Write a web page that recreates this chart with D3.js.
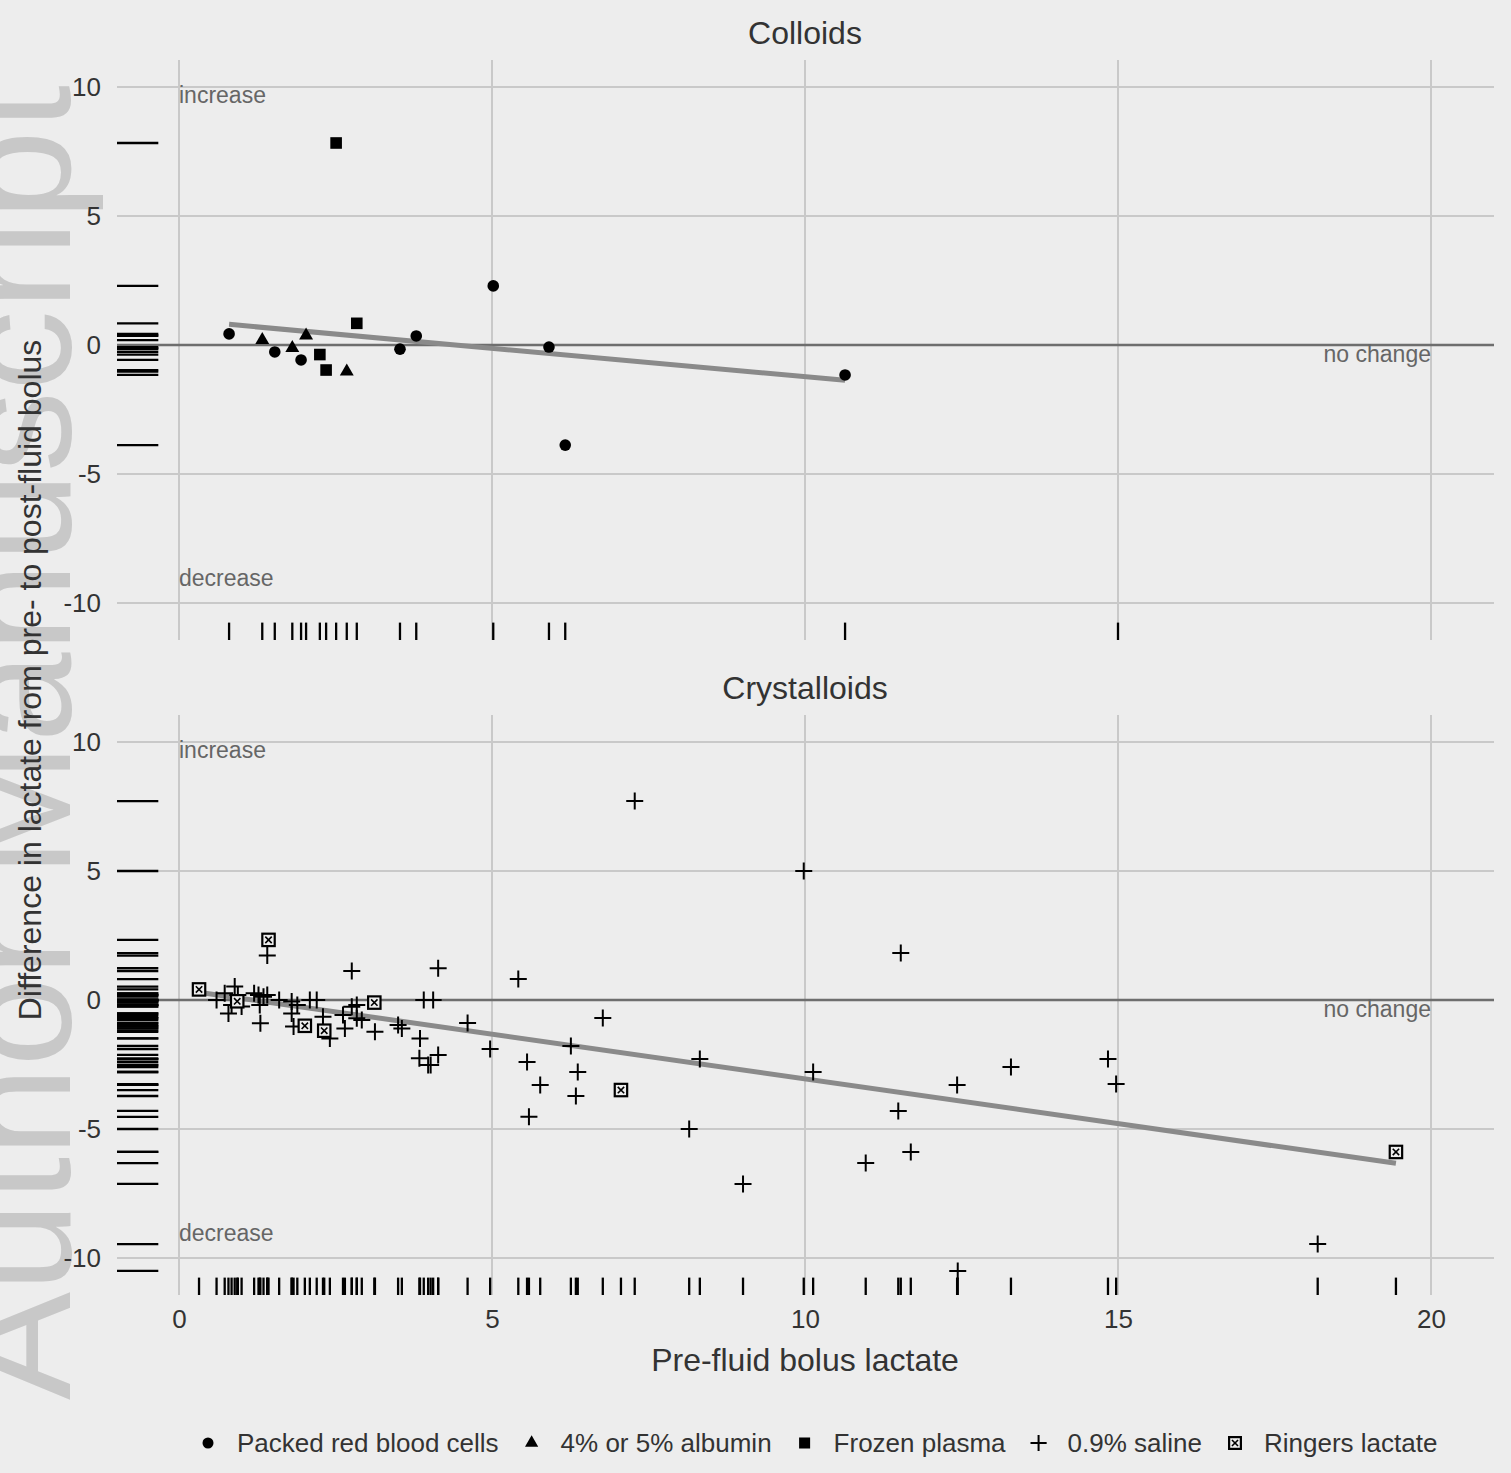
<!DOCTYPE html>
<html>
<head>
<meta charset="utf-8">
<script src="https://cdn.jsdelivr.net/npm/d3@7"></script>
<style>
  body { margin: 0; background: #ededed; }
  svg { display: block; font-family: "Liberation Sans", Arial, sans-serif; }
</style>
</head>
<body>
<svg id="chart"></svg>
<script>
// ---- data ----
// Colloids panel
const rbcX = [0.80, 1.53, 1.95, 3.53, 3.79, 5.02, 5.91, 6.17, 10.64, 15.0];
const rbcY = [0.43, -0.27, -0.58, -0.16, 0.35, 2.29, -0.08, -3.88, -1.16, 12.0];
const albuminX = [1.33, 1.81, 2.03, 2.68];
const albuminY = [0.19, -0.12, 0.37, -1.03];
const plasmaX = [2.25, 2.35, 2.51, 2.84];
const plasmaY = [-0.37, -0.97, 7.83, 0.84];

// Crystalloids panel
const salineX = [0.60, 0.73, 0.89, 0.94, 0.84, 0.79, 1.00, 1.20, 1.27, 1.35, 1.29, 1.30, 1.41, 1.41,
  1.60, 1.80, 1.80, 1.83, 1.89, 2.09, 2.20, 2.30, 2.41, 2.62, 2.65, 2.76, 2.84, 2.84, 2.92, 2.76,
  3.13, 3.50, 3.56, 3.85, 3.84, 3.98, 4.02, 4.14, 4.14, 3.91, 4.06, 4.61, 4.97,
  5.42, 5.56, 5.59, 5.77, 6.26, 6.37, 6.34, 6.77, 7.28, 8.15, 8.32, 9.01, 9.98, 10.13,
  10.97, 11.49, 11.53, 11.69, 12.43, 12.44, 13.29, 14.84, 14.97, 18.19];
const salineY = [0.00, 0.26, 0.52, 0.19, -0.19, -0.52, -0.25, 0.26, 0.19, 0.13, -0.19, -0.90, 0.19, 1.72,
  0.00, -0.06, -0.52, -1.03, -0.19, 0.00, 0.00, -0.65, -1.49, -0.58, -1.10, -0.26, -0.19, -0.71, -0.78, 1.12,
  -1.23, -0.97, -1.10, -1.49, -2.26, -2.52, -2.52, -2.13, 1.23, 0.00, 0.00, -0.89, -1.90,
  0.81, -2.40, -4.53, -3.29, -1.78, -2.79, -3.72, -0.70, 7.71, -5.00, -2.29, -7.13, 5.00, -2.79,
  -6.32, -4.30, 1.82, -5.89, -3.29, -10.50, -2.60, -2.29, -3.26, -9.46];
const ringersX = [0.32, 0.93, 1.43, 2.01, 2.32, 3.12, 7.06, 19.44];
const ringersY = [0.41, -0.05, 2.33, -1.00, -1.19, -0.10, -3.49, -5.89];

// linear fit endpoints as drawn
const colloidFitX = [0.80, 10.64];
const colloidFitY = [0.80, -1.37];
const crystFitX = [0.31, 19.44];
const crystFitY = [0.30, -6.33];

const xTicks = [0, 5, 10, 15, 20];
const yTicks = [-10, -5, 0, 5, 10];

const groupNames = ["Packed red blood cells", "4% or 5% albumin", "Frozen plasma", "0.9% saline", "Ringers lactate"];
const groupShapes = ["circle", "triangle", "square", "cross", "ringers"];

// ---- layout ----
const W = 1511, H = 1473;
const left = 117, right = 1494;

const zip = (xs, ys, g) => xs.map((x, i) => ({ x: x, y: ys[i], g: g }));

const panels = [
  {
    title: "Colloids", top: 60, bottom: 640, y0: 603, y1: 87, titleY: 44,
    points: [].concat(zip(rbcX, rbcY, "circle"), zip(albuminX, albuminY, "triangle"), zip(plasmaX, plasmaY, "square")),
    fitX: colloidFitX, fitY: colloidFitY
  },
  {
    title: "Crystalloids", top: 715, bottom: 1295, y0: 1258, y1: 742, titleY: 699,
    points: [].concat(zip(salineX, salineY, "cross"), zip(ringersX, ringersY, "ringers")),
    fitX: crystFitX, fitY: crystFitY
  }
];

const x = d3.scaleLinear().domain([0, 20]).range([179, 1431]);

const svg = d3.select("#chart").attr("width", W).attr("height", H);
svg.append("rect").attr("width", W).attr("height", H).attr("fill", "#ededed");

// watermark
svg.append("text")
  .attr("transform", "translate(70,1400) rotate(-90)")
  .attr("font-size", 160)
  .attr("textLength", 1315)
  .attr("lengthAdjust", "spacingAndGlyphs")
  .attr("fill", "#c8c8c8")
  .text("Author Manuscript");

function drawShape(g, shape, cx, cy, s) {
  if (shape === "circle") {
    g.append("circle").attr("cx", cx).attr("cy", cy).attr("r", 5.8 * s).attr("fill", "#000");
  } else if (shape === "triangle") {
    g.append("path").attr("transform", `translate(${cx},${cy})`)
      .attr("d", d3.symbol(d3.symbolTriangle, 84 * s * s)()).attr("fill", "#000");
  } else if (shape === "square") {
    const h = 5.8 * s;
    g.append("rect").attr("x", cx - h).attr("y", cy - h).attr("width", 2 * h).attr("height", 2 * h).attr("fill", "#000");
  } else if (shape === "cross") {
    const h = 8.5 * s;
    g.append("path").attr("d", `M${cx - h},${cy}H${cx + h}M${cx},${cy - h}V${cy + h}`)
      .attr("stroke", "#000").attr("stroke-width", 2).attr("fill", "none");
  } else if (shape === "ringers") {
    const h = 6.2 * s, k = 3.2 * s;
    g.append("rect").attr("x", cx - h).attr("y", cy - h).attr("width", 2 * h).attr("height", 2 * h)
      .attr("fill", "#ededed").attr("stroke", "#000").attr("stroke-width", 2.2);
    g.append("path").attr("d", `M${cx - k},${cy - k}L${cx + k},${cy + k}M${cx + k},${cy - k}L${cx - k},${cy + k}`)
      .attr("stroke", "#000").attr("stroke-width", 1.6);
  }
}

panels.forEach((p, i) => {
  const y = d3.scaleLinear().domain([-10, 10]).range([p.y0, p.y1]);
  const g = svg.append("g");
  const clipId = "clip" + i;
  svg.append("clipPath").attr("id", clipId).append("rect")
    .attr("x", left).attr("y", p.top).attr("width", right - left).attr("height", p.bottom - p.top);

  // gridlines
  g.selectAll(".vg").data(xTicks).enter().append("line")
    .attr("x1", d => x(d)).attr("x2", d => x(d)).attr("y1", p.top).attr("y2", p.bottom)
    .attr("stroke", "#c9c9c9").attr("stroke-width", 2);
  g.selectAll(".hg").data(yTicks).enter().append("line")
    .attr("x1", left).attr("x2", right).attr("y1", d => y(d)).attr("y2", d => y(d))
    .attr("stroke", "#c9c9c9").attr("stroke-width", 2);

  // y axis labels
  const yAxis = d3.axisLeft(y).tickValues(yTicks).tickSize(0).tickPadding(16).tickFormat(d => String(d));
  const ya = g.append("g").attr("transform", `translate(${left},0)`).call(yAxis);
  ya.select(".domain").remove();
  ya.selectAll("text").attr("font-size", 26).attr("fill", "#333").attr("font-family", "Liberation Sans, Arial, sans-serif");

  // no-change line
  g.append("line").attr("x1", left).attr("x2", right).attr("y1", y(0)).attr("y2", y(0))
    .attr("stroke", "#6e6e6e").attr("stroke-width", 2.5);

  // annotations
  g.append("text").attr("x", x(0)).attr("y", y(10) + 16).attr("font-size", 23).attr("fill", "#666").text("increase");
  g.append("text").attr("x", x(0)).attr("y", y(-10) - 17).attr("font-size", 23).attr("fill", "#666").text("decrease");
  g.append("text").attr("x", x(20)).attr("y", y(0) + 17).attr("font-size", 23).attr("fill", "#666")
    .attr("text-anchor", "end").text("no change");

  // title
  svg.append("text").attr("x", x(10)).attr("y", p.titleY).attr("text-anchor", "middle")
    .attr("font-size", 32).attr("fill", "#333").text(p.title);

  const inner = g.append("g").attr("clip-path", `url(#${clipId})`);

  // rugs
  const inX = p.points.filter(d => x(d.x) >= left && x(d.x) <= right);
  const inY = p.points.filter(d => y(d.y) >= p.top && y(d.y) <= p.bottom);
  const rugX = 0.03 * (p.bottom - p.top), rugY = 0.03 * (right - left);
  inner.selectAll(".rx").data(inX).enter().append("line")
    .attr("x1", d => x(d.x)).attr("x2", d => x(d.x)).attr("y1", p.bottom - rugX).attr("y2", p.bottom)
    .attr("stroke", "#000").attr("stroke-width", 2.3);
  inner.selectAll(".ry").data(inY).enter().append("line")
    .attr("y1", d => y(d.y)).attr("y2", d => y(d.y)).attr("x1", left).attr("x2", left + rugY)
    .attr("stroke", "#000").attr("stroke-width", 2.3);

  // fit line
  inner.append("path")
    .attr("d", d3.line().x(d => x(d[0])).y(d => y(d[1]))(p.fitX.map((v, j) => [v, p.fitY[j]])))
    .attr("stroke", "#8a8a8a").attr("stroke-width", 5).attr("fill", "none");

  // points
  p.points.forEach(d => drawShape(inner, d.g, x(d.x), y(d.y), 1));

  // x axis labels only on bottom panel
  if (i === panels.length - 1) {
    const xAxis = d3.axisBottom(x).tickValues(xTicks).tickSize(0).tickPadding(15).tickFormat(d => String(d));
    const xa = g.append("g").attr("transform", `translate(0,${p.bottom})`).call(xAxis);
    xa.select(".domain").remove();
    xa.selectAll("text").attr("font-size", 26).attr("fill", "#333").attr("font-family", "Liberation Sans, Arial, sans-serif");
  }
});

// axis titles
svg.append("text").attr("x", x(10)).attr("y", 1371).attr("text-anchor", "middle")
  .attr("font-size", 32).attr("fill", "#333").text("Pre-fluid bolus lactate");
svg.append("text").attr("transform", "translate(41,680) rotate(-90)").attr("text-anchor", "middle")
  .attr("font-size", 32).attr("fill", "#333").text("Difference in lactate from pre- to post-fluid bolus");

// legend
const legend = svg.append("g");
let lx = 208;
const ly = 1443;
groupNames.forEach((name, i) => {
  drawShape(legend, groupShapes[i], lx, ly, 0.95);
  const t = legend.append("text").attr("x", lx + 29).attr("y", ly + 9).attr("font-size", 26)
    .attr("fill", "#333").text(name);
  lx = lx + 29 + t.node().getComputedTextLength() + 33;
});
</script>
</body>
</html>
